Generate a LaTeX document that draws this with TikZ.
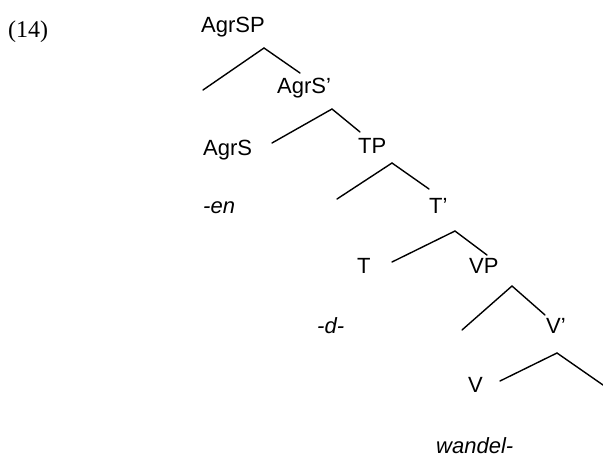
\documentclass[tikz,border=0pt]{standalone}
\usepackage{fontspec}
\setmainfont{Liberation Sans}
\newfontfamily\numfont{Liberation Serif}
\begin{document}
\begin{tikzpicture}[x=1pt,y=-1pt,
  lab/.style={anchor=base west,inner sep=0pt,font=\fontsize{22}{26}\selectfont},
  ilab/.style={lab,font=\fontsize{22}{26}\selectfont\itshape},
  branch/.style={line width=1.4pt,line cap=round,line join=miter}]
\useasboundingbox (0,0) rectangle (603,458);
% labels
\node[anchor=base west,inner sep=0pt,font=\numfont\fontsize{24}{28}\selectfont] (ex) at (8,37) {(14)};
\node[lab] (agrsp) at (201,32) {AgrSP};
\node[lab] (agrsbar) at (277,93) {AgrS'};
\node[lab] (agrs) at (203,155) {AgrS};
\node[lab] (tp) at (358,153) {TP};
\node[ilab] (en) at (203,213) {-en};
\node[lab] (tbar) at (429,213) {T'};
\node[lab] (t) at (357,273) {T};
\node[lab] (vp) at (469,273) {VP};
\node[ilab] (d) at (317,333) {-d-};
\node[lab] (vbar) at (546,333) {V'};
\node[lab] (v) at (468,392) {V};
\node[ilab] (wandel) at (436,453) {wandel-};
% branch points
\coordinate (a1) at (264,48); \coordinate (l1) at (203,90); \coordinate (r1) at (300,73);
\coordinate (a2) at (332,109); \coordinate (l2) at (272,143); \coordinate (r2) at (360,132);
\coordinate (a3) at (392,163); \coordinate (l3) at (337,199); \coordinate (r3) at (429,189);
\coordinate (a4) at (455,231); \coordinate (l4) at (392,262); \coordinate (r4) at (487,255);
\coordinate (a5) at (512,286); \coordinate (l5) at (462,330); \coordinate (r5) at (545,315);
\coordinate (a6) at (557,353); \coordinate (l6) at (500,381); \coordinate (r6) at (603,385);
\draw[branch] (l1) -- (a1) -- (r1);
\draw[branch] (l2) -- (a2) -- (r2);
\draw[branch] (l3) -- (a3) -- (r3);
\draw[branch] (l4) -- (a4) -- (r4);
\draw[branch] (l5) -- (a5) -- (r5);
\draw[branch] (l6) -- (a6) -- (r6);
\end{tikzpicture}
\end{document}
